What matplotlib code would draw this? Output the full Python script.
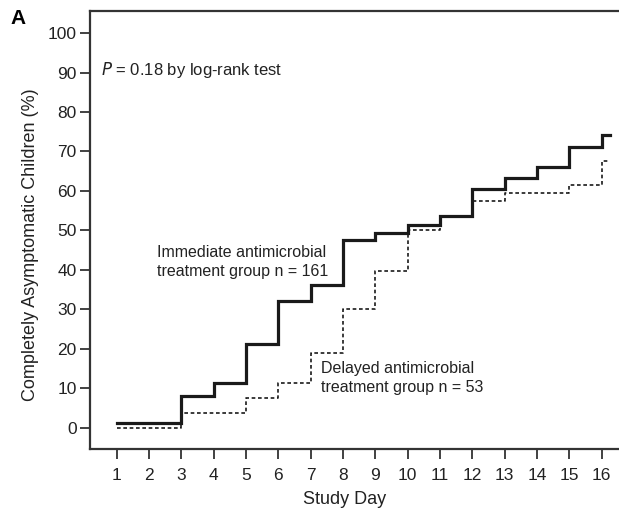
import matplotlib
matplotlib.use("Agg")
import matplotlib.pyplot as plt

plt.rcParams['font.family'] = ['Liberation Sans', 'DejaVu Sans']

# Immediate antimicrobial treatment group (solid)
imm_days = [1, 3, 4, 5, 6, 7, 8, 9, 10, 11, 12, 13, 14, 15, 16]
imm_vals = [1.1, 8.0, 11.2, 21.3, 32.0, 36.2, 47.5, 49.3, 51.4, 53.6, 60.6, 63.2, 66.1, 71.2, 74.2]
# Delayed antimicrobial treatment group (dashed)
del_days = [1, 3, 5, 6, 7, 8, 9, 10, 11, 12, 13, 15, 16]
del_vals = [0.0, 3.8, 7.6, 11.2, 19.0, 30.2, 39.8, 50.0, 53.3, 57.4, 59.4, 61.5, 67.6]
end_day = 16.25

x_ticks = list(range(1, 17))
y_ticks = list(range(0, 101, 10))

fig = plt.figure(figsize=(6.19, 5.11), dpi=100)
ax = fig.add_axes([90/619, 1-449/511, 1-90/619, (449-11)/511])

ax.step(imm_days + [end_day], imm_vals + [imm_vals[-1]], where='post',
        color='#1a1a1a', lw=2.3, solid_joinstyle='miter')
ax.step(del_days + [end_day], del_vals + [del_vals[-1]], where='post',
        color='#1a1a1a', lw=1.2, linestyle=(0, (2.2, 1.6)))

ax.set_xlim(0.175, 16.54)
ax.set_ylim(-5.4, 105.6)
ax.set_xticks(x_ticks)
ax.set_yticks(y_ticks)
ax.tick_params(axis='both', direction='out', length=7, width=1.3, labelsize=12.5,
               color='#333333', labelcolor='#222222')
ax.tick_params(axis='x', pad=7)
ax.tick_params(axis='y', pad=2.5)
for s in ['left', 'bottom', 'top']:
    ax.spines[s].set_linewidth(1.6)
    ax.spines[s].set_color('#333333')
ax.spines['right'].set_visible(False)

fig.text(101/619, 1-70/511, r'$\it{P}$ = 0.18 by log-rank test', fontsize=12,
         va='center', ha='left', color='#222222')
fig.text(157/619, 1-262/511, 'Immediate antimicrobial\ntreatment group n = 161', fontsize=11.5,
         va='center', ha='left', color='#222222', linespacing=1.35)
fig.text(321/619, 1-378/511, 'Delayed antimicrobial\ntreatment group n = 53', fontsize=11.5,
         va='center', ha='left', color='#222222', linespacing=1.35)
fig.text(18/619, 1-18/511, 'A', fontsize=15, fontweight='bold', va='center', ha='center')
fig.text(31/619, 1-245/511, 'Completely Asymptomatic Children (%)', fontsize=13,
         rotation=90, va='center', ha='center', color='#222222')
fig.text(345/619, 1-499/511, 'Study Day', fontsize=13, va='center', ha='center', color='#222222')

fig.savefig('out.png', dpi=100)
